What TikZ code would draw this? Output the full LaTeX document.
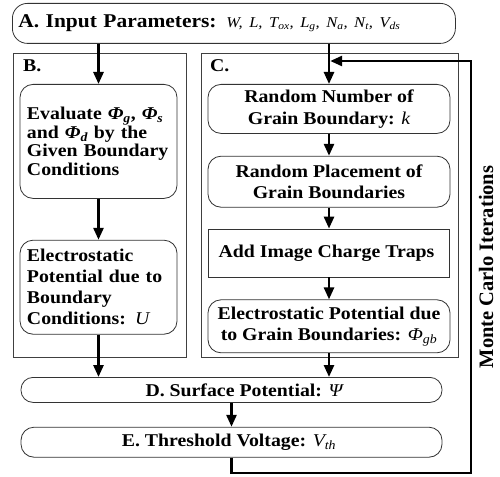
\documentclass[tikz,border=0pt]{standalone}
\usepackage{fontspec}
\setmainfont{Liberation Serif}[FakeStretch=1.1]
\newfontfamily\mcfont{Liberation Serif}
\usetikzlibrary{arrows.meta,positioning}

\newcommand\lsub[1]{\textsubscript{\itshape #1}}

\begin{document}
\begin{tikzpicture}[
    x=1pt,y=-1pt,
    every node/.style={align=center,inner sep=0pt,font=\bfseries\fontsize{18}{21.5}\selectfont},
    roundbox/.style={rectangle,draw=black!80,line width=0.8pt,rounded corners=13pt},
    squarebox/.style={rectangle,draw=black!80,line width=0.8pt},
    column/.style={rectangle,draw=black!75,line width=0.8pt,anchor=north west},
    colname/.style={anchor=base west},
    arrow/.style={-{Triangle[width=10pt,length=12pt]},line width=2.6pt},
    lefttext/.style={align=left,inner xsep=7pt,text width=143pt}
]

\useasboundingbox (0,0) rectangle (500,476);

% =====================
% INPUT
% =====================
\node[roundbox,rounded corners=15pt,anchor=north west,align=left,
      inner xsep=6pt,text width=431pt,minimum height=40pt,
      font=\bfseries\fontsize{19.5}{21}\selectfont] (input) at (12,3) {
A. Input Parameters: {\mdseries\itshape\fontsize{15}{16}\selectfont W, L, T\lsub{ox}, L\lsub{g}, N\lsub{a}, N\lsub{t}, V\lsub{ds}}
};

% =====================
% COLUMNS B AND C
% =====================
\node[column,minimum width=173pt,minimum height=304pt] (colb) at (13,53) {};
\node[column,minimum width=257pt,minimum height=304pt] (colc) at (201,53) {};
\node[colname] (bname) at (23,72) {B.};
\node[colname] (cname) at (210,72) {C.};

% column B
\node[roundbox,lefttext,minimum height=114pt,anchor=north,
      font=\bfseries\fontsize{18}{18.5}\selectfont] (bound) at (98.5,84) {
Evaluate {\itshape Φ}\lsub{g}, {\itshape Φ}\lsub{s}\\
and {\itshape Φ}\lsub{d} by the\\
Given Boundary\\
Conditions
};
\node[roundbox,lefttext,minimum height=94pt,below=41pt of bound,
      font=\bfseries\fontsize{18}{21}\selectfont] (potu) {
Electrostatic\\
Potential due to\\
Boundary\\
Conditions: {\mdseries\itshape U}
};

% column C
\node[roundbox,minimum width=242pt,minimum height=49pt,anchor=north] (number) at (329,84) {
Random Number of\\
Grain Boundary: {\mdseries\itshape k}
};
\node[roundbox,minimum width=242pt,minimum height=51pt,below=22pt of number] (place) {
Random Placement of\\
Grain Boundaries
};
\node[squarebox,minimum width=241pt,minimum height=48pt,below=21pt of place] (traps) {
Add Image Charge Traps
};
\node[roundbox,minimum width=242pt,minimum height=53pt,below=22pt of traps] (potgb) {
Electrostatic Potential due\\
to Grain Boundaries: {\mdseries\itshape Φ\lsub{gb}}
};

% =====================
% OUTPUTS
% =====================
\node[roundbox,rounded corners=12pt,minimum width=421pt,minimum height=25pt,anchor=north] (surface) at (231.5,377) {
\hspace*{30pt}D. Surface Potential: {\mdseries\itshape Ψ}
};
\node[roundbox,rounded corners=13pt,minimum width=421pt,minimum height=30pt,below=24pt of surface] (threshold) {
E. Threshold Voltage: {\mdseries\itshape V\lsub{th}}
};

\node[rotate=90,font=\mcfont\bfseries\fontsize{20.5}{21}\selectfont] (mclabel) at (486,267) {Monte Carlo Iterations};

% arrows
\draw[arrow] (input.south -| bound) -- (bound.north);
\draw[arrow] (input.south -| number) -- (number.north);
\draw[arrow] (bound) -- (potu);
\draw[arrow] (number) -- (place);
\draw[arrow] (place) -- (traps);
\draw[arrow] (traps) -- (potgb);
\draw[arrow] (potu.south) -- (potu.south |- surface.north);
\draw[arrow] (potgb.south) -- (potgb.south |- surface.north);
\draw[arrow] (surface) -- (threshold);

% Monte Carlo loop
\coordinate (loopbottom) at (471,473);
\coordinate (looptop) at (471,61);
\draw[arrow,shorten >=1.2pt] (threshold.south) |- (loopbottom) -- (looptop) -- (looptop -| number.north);

\end{tikzpicture}
\end{document}
